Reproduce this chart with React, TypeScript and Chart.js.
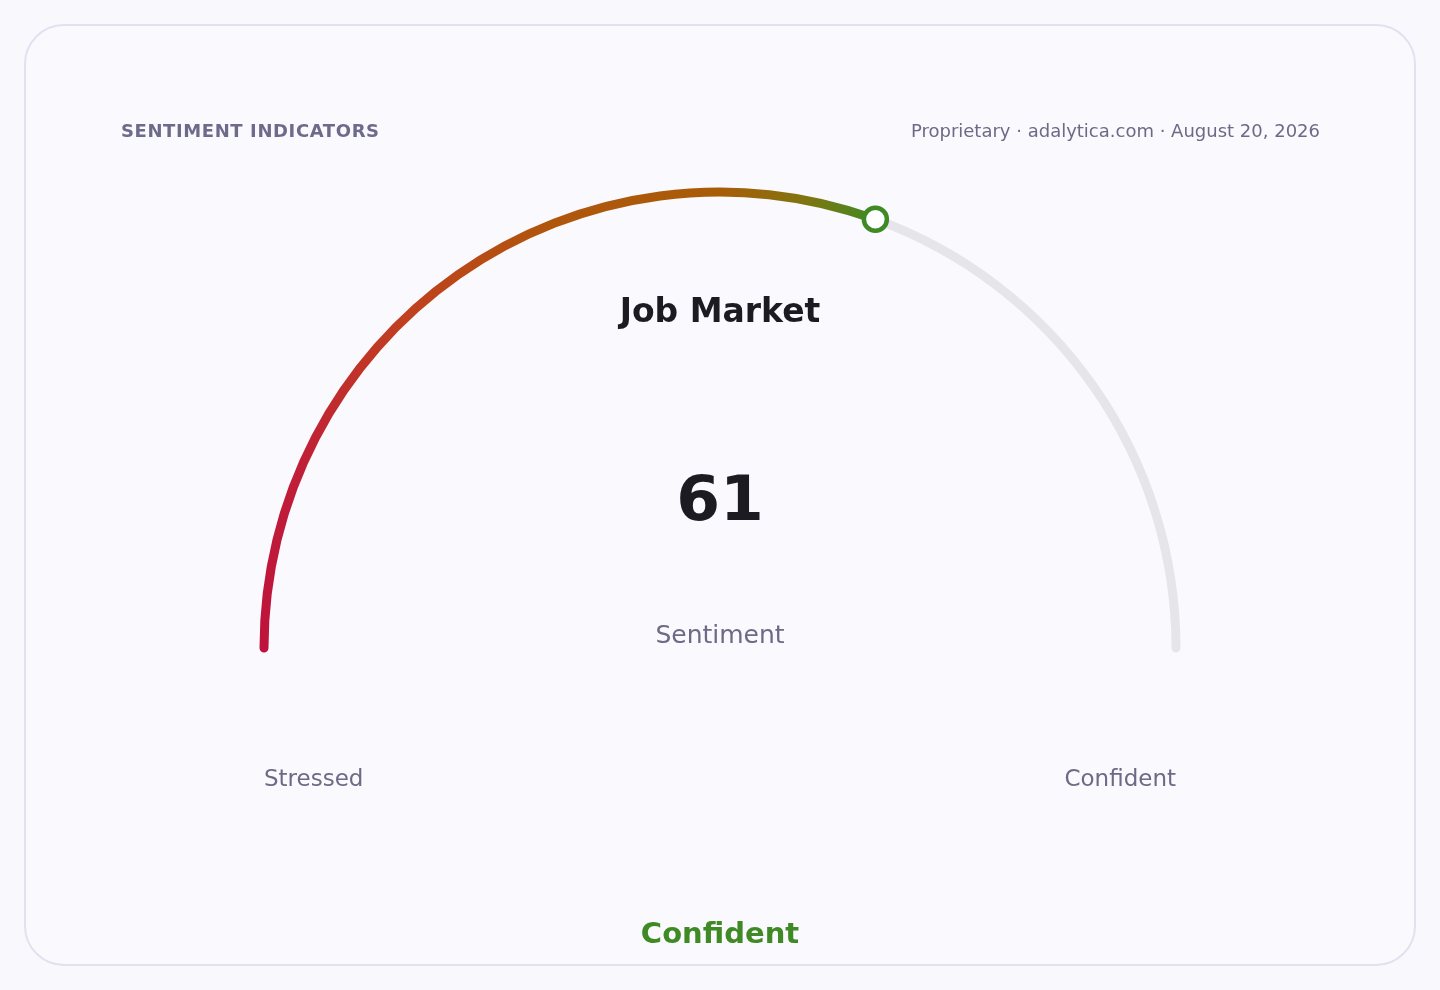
import { useEffect, useRef } from "react"
import { Chart, registerables } from "chart.js"

Chart.register(...registerables)

// gauge data
const gaugeTitle = "Job Market"
const gaugeMetric = "Sentiment"
const gaugeLabels = ["Score", "Remaining"]
const scoreValue = 61
const scaleMax = 100
const scaleEnds = ["Stressed", "Confident"]
const statusLabel = "Confident"

// colour ramp along the filled part (value, colour)
const rampValues = [0, 13, 26, 38, 50, 56, 61]
const rampColors = ["#be123c", "#c01e38", "#c0401f", "#b0560c", "#a85c08", "#807510", "#3f8a24"]

const headerLeft = "SENTIMENT INDICATORS"
const headerRight = "Proprietary · adalytica.com · August 20, 2026"

const W = 1440
const H = 990
const CX = 720
const CY = 648
const R_MID = 456
const THICK = 9

const FONT = '"DejaVu Sans", Verdana, sans-serif'
const MUTED = "#6e6a86"
const DARK = "#1c1b22"
const GREEN = "#3f8a24"
const TRACK = "#e6e6ea"

export default function App() {
  const canvasRef = useRef<HTMLCanvasElement>(null)
  const chartRef = useRef<Chart | null>(null)

  useEffect(() => {
    if (!canvasRef.current) return
    if (chartRef.current) chartRef.current.destroy()

    const ctx = canvasRef.current.getContext("2d")
    if (!ctx) return

    const outerR = R_MID + THICK / 2
    const innerR = R_MID - THICK / 2
    const e = THICK / 2 / R_MID // cap extension in radians
    const eDeg = (e * 180) / Math.PI
    const ratioY = (Math.sin(e) + 1) / 2
    const areaH = 2 * outerR * ratioY + 0.01
    const top = CY - outerR
    const pad = {
      left: CX - outerR,
      right: W - CX - outerR,
      top,
      bottom: H - top - areaH,
    }

    // conic gradient starting just before the arc start
    const grad = ctx.createConicGradient(Math.PI - 2 * e, CX, CY)
    const span = Math.PI + 2 * e
    grad.addColorStop(0, rampColors[0])
    rampValues.forEach((v, i) => {
      const ang = e + (v / scaleMax) * span
      grad.addColorStop(Math.min(ang / (2 * Math.PI), 1), rampColors[i])
    })
    grad.addColorStop(1, rampColors[rampColors.length - 1])

    const cap = THICK / 2

    const markerPlugin = {
      id: "marker",
      afterDatasetsDraw(chart: Chart) {
        const arc: any = chart.getDatasetMeta(0).data[0]
        if (!arc) return
        const { x, y, endAngle, innerRadius, outerRadius } = arc.getProps(
          ["x", "y", "endAngle", "innerRadius", "outerRadius"],
          true
        )
        const r = (innerRadius + outerRadius) / 2
        const mx = x + Math.cos(endAngle) * r
        const my = y + Math.sin(endAngle) * r
        const c = chart.ctx
        c.save()
        c.beginPath()
        c.arc(mx, my, 11.5, 0, Math.PI * 2)
        c.fillStyle = "#ffffff"
        c.fill()
        c.lineWidth = 4.5
        c.strokeStyle = GREEN
        c.stroke()
        c.restore()
      },
    }

    chartRef.current = new Chart(ctx, {
      type: "doughnut",
      data: {
        labels: gaugeLabels,
        datasets: [
          {
            data: [scoreValue, scaleMax - scoreValue],
            backgroundColor: [grad, TRACK],
            borderWidth: 0,
            hoverOffset: 0,
            offset: 0,
            borderRadius: (c: any) =>
              c.dataIndex === 0
                ? { outerStart: cap, innerStart: cap, outerEnd: 0, innerEnd: 0 }
                : { outerStart: 0, innerStart: 0, outerEnd: cap, innerEnd: cap },
          },
        ],
      },
      options: {
        responsive: true,
        maintainAspectRatio: false,
        animation: false,
        events: [],
        rotation: -90 - eDeg,
        circumference: 180 + 2 * eDeg,
        cutout: `${(innerR / outerR) * 100}%`,
        layout: { padding: pad },
        plugins: {
          legend: { display: false },
          tooltip: { enabled: false },
        },
      },
      plugins: [markerPlugin],
    })

    return () => {
      if (chartRef.current) {
        chartRef.current.destroy()
        chartRef.current = null
      }
    }
  }, [])

  const text = (
    content: string,
    x: number,
    y: number,
    size: number,
    color: string,
    opts: { bold?: boolean; align?: "left" | "center" | "right"; spacing?: number } = {}
  ) => {
    const align = opts.align || "left"
    const tx = align === "center" ? "-50%" : align === "right" ? "-100%" : "0"
    return (
      <div
        style={{
          position: "absolute",
          left: x,
          top: y,
          transform: `translate(${tx}, -50%)`,
          fontFamily: FONT,
          fontSize: size,
          fontWeight: opts.bold ? 700 : 400,
          color,
          lineHeight: 1,
          whiteSpace: "nowrap",
          letterSpacing: opts.spacing ? opts.spacing : undefined,
        }}
      >
        {content}
      </div>
    )
  }

  return (
    <div
      style={{
        position: "fixed",
        left: 0,
        top: 0,
        width: W,
        height: H,
        background: "#f8f8fd",
        overflow: "hidden",
      }}
    >
      <div
        style={{
          position: "absolute",
          left: 24,
          top: 24,
          width: 1392 - 4,
          height: 942 - 4,
          border: "2px solid #e3e1f0",
          borderRadius: 40,
          background: "#f9f9fe",
        }}
      />
      <div style={{ position: "absolute", left: 0, top: 0, width: W, height: H }}>
        <canvas ref={canvasRef} />
      </div>
      {text(headerLeft, 121, 131, 18, "#6e6a8a", { bold: true, spacing: 0.6 })}
      {text(headerRight, 1320, 131, 18, MUTED, { align: "right" })}
      {text(gaugeTitle, CX, 310, 33, DARK, { bold: true, align: "center" })}
      {text(String(scoreValue), CX, 498, 63, DARK, { bold: true, align: "center" })}
      {text(gaugeMetric, CX, 634, 25, MUTED, { align: "center" })}
      {text(scaleEnds[0], 264, 778, 23, MUTED)}
      {text(scaleEnds[1], 1176, 778, 23, MUTED, { align: "right" })}
      {text(statusLabel, CX, 933, 29, GREEN, { bold: true, align: "center" })}
    </div>
  )
}
